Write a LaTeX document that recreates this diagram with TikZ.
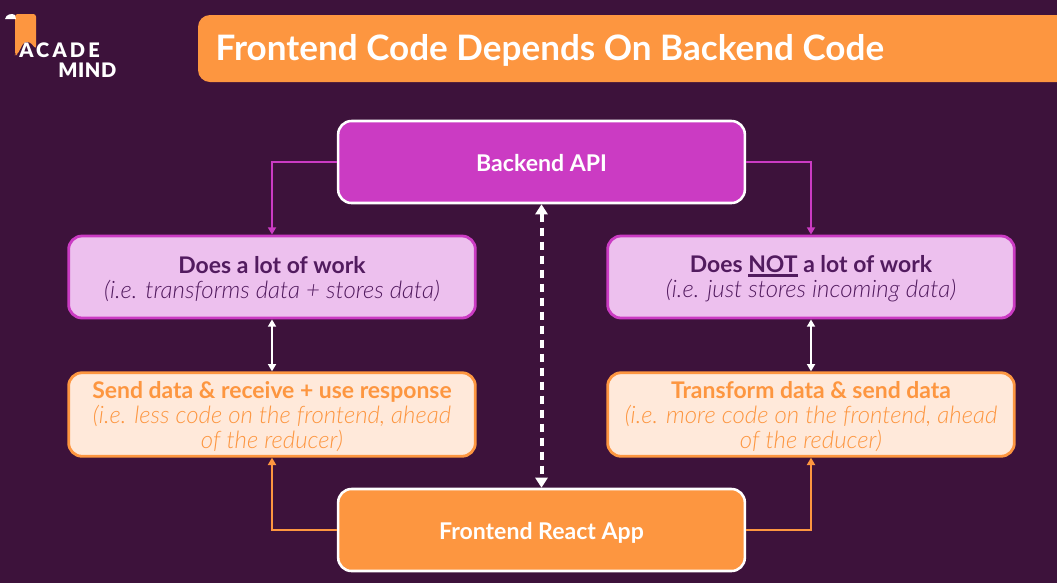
\documentclass[tikz,border=0pt]{standalone}
\usepackage{fontspec}
\setmainfont{Lato}
\newfontfamily\lightfont{Lato Light}
\newfontfamily\blackfont{Lato Black}
\usetikzlibrary{positioning, arrows.meta}
\definecolor{bgpurple}{HTML}{3D123B}
\definecolor{darktext}{HTML}{521B5F}
\definecolor{magentabox}{HTML}{CB3BC3}
\definecolor{lightmagenta}{HTML}{EDC0EE}
\definecolor{orangebox}{HTML}{FD9640}
\definecolor{lightorange}{HTML}{FFE9DA}
\tikzset{
	mainbox/.style={draw=white, rounded corners=10pt, line width=1.9pt, minimum width=305pt, minimum height=61.5pt, align=center, text=white, text height=17.5pt, text depth=3pt, font=\fontsize{17.3}{20}\selectfont\bfseries},
	backendbox/.style={mainbox, fill=magentabox},
	frontendbox/.style={mainbox, fill=orangebox},
	infobox/.style={rounded corners=10pt, line width=2.1pt, minimum width=305pt, minimum height=61.5pt, align=center, font=\fontsize{17.2}{18.8}\selectfont},
	workbox/.style={infobox, draw=magentabox, fill=lightmagenta, text=darktext},
	codebox/.style={infobox, draw=orangebox, fill=lightorange, text=orangebox},
	magentaline/.style={draw=magentabox, line width=1.9pt, -{Triangle[length=5.5pt,width=6pt]}},
	orangeline/.style={draw=orangebox, line width=1.9pt, -{Triangle[length=5.5pt,width=6pt]}},
	whiteline/.style={draw=white, line width=1.7pt, {Triangle[length=5.5pt,width=6pt]}-{Triangle[length=5.5pt,width=6pt]}},
	dashline/.style={draw=white, line width=3pt, dash pattern=on 6.5pt off 4pt, {Triangle[length=7.5pt,width=9pt]}-{Triangle[length=7.5pt,width=9pt]}},
	logotext/.style={anchor=west, inner sep=0pt, text=white},
}
\newcommand{\head}[1]{\rule{0pt}{16pt}\textbf{#1}}
\newcommand{\note}[1]{{\lightfont\itshape\fontsize{18}{18.8}\selectfont #1}}
\newcommand{\thickunder}[1]{\setbox0=\hbox{#1}\rlap{\rule[-2.8pt]{\wd0}{1.7pt}}\box0\relax}
\begin{document}
\begin{tikzpicture}[x=0.75pt, y=-0.75pt]
	\useasboundingbox (0,0) rectangle (1057,583);
	\fill [bgpurple] (0,0) rectangle (1057,583);

	%//title bar
	\fill [orangebox, rounded corners=9pt] (198,15) -- (198,82) -- (1080,82) -- (1080,15) -- cycle;
	\node [anchor=west, text=white, font=\fontsize{26.3}{30}\selectfont\bfseries] (title) at (211,50) {Frontend Code Depends On Backend Code};

	%//logo
	\fill [orangebox, rounded corners=2pt] (15,14) -- (36,14) -- (36,49) -- (30,42) -- (24,42) -- (17,55) -- (15,55) -- cycle;
	\fill [white] (5,19) .. controls (6,14) and (12,13) .. (15,15) -- (16,19) -- cycle;
	\node [logotext, font=\blackfont\fontsize{15}{15}\selectfont\addfontfeature{LetterSpace=16}] (logoa) at (19,50) {ACADE};
	\node [logotext, font=\blackfont\fontsize{15}{15}\selectfont\addfontfeature{LetterSpace=3}] (logob) at (58,70) {MIND};

	%//boxes
	\node [backendbox] (backend) at (541.5,162) {Backend API};
	\node [frontendbox] (frontend) at (541.5,530) {Frontend React App};
	\node [workbox] (lotwork) at (272,277) {\head{Does a lot of work}\\\note{(i.e. transforms data + stores data)}};
	\node [workbox] (nowork) at (811,277) {\head{Does \thickunder{NOT} a lot of work}\\\note{(i.e. just stores incoming data)}};
	\node [codebox] (sendcode) at (272,414.5) {\head{Send data \& receive + use response}\\\note{(i.e. less code on the frontend, ahead}\\\note{of the reducer)}};
	\node [codebox] (transformcode) at (811,414.5) {\head{Transform data \& send data}\\\note{(i.e. more code on the frontend, ahead}\\\note{of the reducer)}};

	%//connectors
	\draw [magentaline] (backend.west) -| (lotwork.north);
	\draw [magentaline] (backend.east) -| (nowork.north);
	\draw [orangeline] (frontend.west) -| (sendcode.south);
	\draw [orangeline] (frontend.east) -| (transformcode.south);
	\draw [whiteline] (lotwork.south) -- (sendcode.north);
	\draw [whiteline] (nowork.south) -- (transformcode.north);
	\draw [dashline] (backend.south) -- (frontend.north);
\end{tikzpicture}
\end{document}
